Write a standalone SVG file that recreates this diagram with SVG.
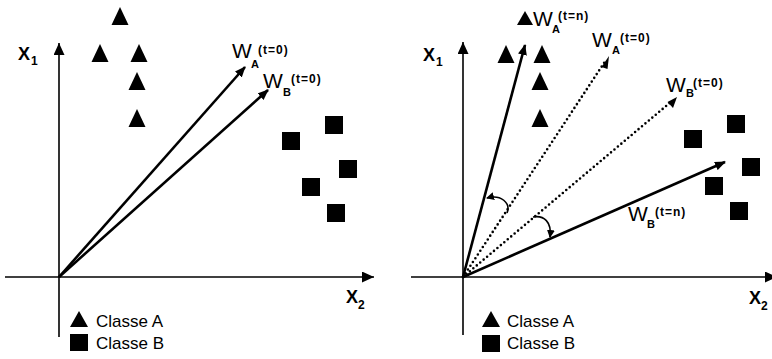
<svg xmlns="http://www.w3.org/2000/svg" width="772" height="359" viewBox="0 0 772 359">
<defs>
<marker id="axh" markerUnits="userSpaceOnUse" markerWidth="12" markerHeight="11" refX="12" refY="5.5" orient="auto"><path d="M0,0 L12,5.5 L0,11 z" fill="#000"/></marker>
<marker id="vh" markerUnits="userSpaceOnUse" markerWidth="11" markerHeight="9" refX="10" refY="4.5" orient="auto"><path d="M0,0 L11,4.5 L0,9 z" fill="#000"/></marker>
<marker id="ah" markerUnits="userSpaceOnUse" markerWidth="8" markerHeight="8" refX="7" refY="4" orient="auto"><path d="M0,0 L8,4 L0,8 z" fill="#000"/></marker>
<path id="tri" d="M0,0 L8.5,18 L-8.5,18 z"/>
<rect id="sq" width="18" height="18"/>
</defs>
<style>
.ax{stroke:#000;stroke-width:1.6;fill:none}
.vec{stroke:#000;stroke-width:2.6;fill:none}
.dot{stroke:#000;stroke-width:2.6;fill:none;stroke-dasharray:0 4.5;stroke-linecap:round}
.arc{stroke:#000;stroke-width:1.6;fill:none}
.pt{fill:#000}
.W{font-family:"Liberation Sans",Arial,sans-serif;font-size:21px;fill:#000}
.sub{font-family:"Liberation Sans",Arial,sans-serif;font-size:11px;font-weight:bold;fill:#000}
.sup{font-family:"Liberation Sans",Arial,sans-serif;font-size:12px;font-weight:bold;letter-spacing:1px;fill:#000}
.X{font-family:"Liberation Sans",Arial,sans-serif;font-size:18px;font-weight:bold;fill:#000}
.Xs{font-family:"Liberation Sans",Arial,sans-serif;font-size:12px;font-weight:bold;fill:#000}
.leg{font-family:"Liberation Sans",Arial,sans-serif;font-size:17px;fill:#000}
</style>
<rect width="772" height="359" fill="#fff"/>

<g id="left-panel">
<g id="left-axes">
<line class="ax" x1="59" y1="337" x2="59" y2="43" marker-end="url(#axh)"/>
<line class="ax" x1="5" y1="277" x2="374" y2="277" marker-end="url(#axh)"/>
<text class="X" x="18" y="60">X</text><text class="Xs" x="31" y="65">1</text>
<text class="X" x="346" y="303">X</text><text class="Xs" x="358" y="309">2</text>
</g>
<g id="left-points" class="pt">
<use href="#tri" x="120" y="7"/>
<use href="#tri" x="100" y="44"/>
<use href="#tri" x="139" y="44"/>
<use href="#tri" x="137" y="72"/>
<use href="#tri" x="137" y="109"/>
<use href="#sq" x="282" y="132"/>
<use href="#sq" x="325" y="116"/>
<use href="#sq" x="339" y="160"/>
<use href="#sq" x="302" y="178"/>
<use href="#sq" x="327" y="204"/>
</g>
<g id="left-connectors">
<line class="vec" x1="59" y1="277" x2="245" y2="67" marker-end="url(#vh)"/>
<line class="vec" x1="59" y1="277" x2="268" y2="90" marker-end="url(#vh)"/>
</g>
<g id="left-WA0">
<text class="W" x="232" y="58">W</text><text class="sub" x="251" y="68">A</text><text class="sup" x="258" y="54">(t=0)</text>
</g>
<g id="left-WB0">
<text class="W" x="263" y="88">W</text><text class="sub" x="283" y="96">B</text><text class="sup" x="291" y="83">(t=0)</text>
</g>
<g id="left-legend">
<path class="pt" d="M79,311 L88,327 L70,327 z"/>
<rect class="pt" x="70" y="334" width="18" height="17"/>
<text class="leg" x="96" y="327">Classe A</text>
<text class="leg" x="96" y="349">Classe B</text>
</g>
</g>

<g id="right-panel">
<g id="right-axes">
<line class="ax" x1="463" y1="335" x2="463" y2="42" marker-end="url(#axh)"/>
<line class="ax" x1="411" y1="277" x2="777" y2="277" marker-end="url(#axh)"/>
<text class="X" x="423" y="61">X</text><text class="Xs" x="436" y="66">1</text>
<text class="X" x="749" y="304">X</text><text class="Xs" x="761" y="310">2</text>
</g>
<g id="right-points" class="pt">
<path d="M525,11 L533,25 L517,25 z"/>
<use href="#tri" x="506" y="45"/>
<use href="#tri" x="542" y="45"/>
<use href="#tri" x="540" y="72"/>
<use href="#tri" x="540" y="109"/>
<use href="#sq" x="684" y="130"/>
<use href="#sq" x="727" y="115"/>
<use href="#sq" x="742" y="158"/>
<use href="#sq" x="705" y="177"/>
<use href="#sq" x="730" y="202"/>
</g>
<g id="right-connectors">
<line class="dot" x1="463" y1="277" x2="606" y2="60"/>
<path d="M601.5,67 L609,56 L607.5,69 z" fill="#000"/>
<line class="dot" x1="463" y1="277" x2="672" y2="101"/>
<path d="M667.5,102 L677,97 L673,108 z" fill="#000"/>
<line class="vec" x1="463" y1="277" x2="525" y2="45" marker-end="url(#vh)"/>
<line class="vec" x1="463" y1="277" x2="725" y2="162" marker-end="url(#vh)"/>
<path class="arc" d="M507,213 C511,203 501,194 487,198" marker-end="url(#ah)"/>
<path class="arc" d="M533,217 C544,215 552,222 550,237" marker-end="url(#ah)"/>
</g>
<g id="right-WAn">
<text class="W" x="533" y="26">W</text><text class="sub" x="552" y="33">A</text><text class="sup" x="558" y="20">(t=n)</text>
</g>
<g id="right-WA0">
<text class="W" x="592" y="47">W</text><text class="sub" x="612" y="54">A</text><text class="sup" x="620" y="42">(t=0)</text>
</g>
<g id="right-WB0">
<text class="W" x="666" y="92">W</text><text class="sub" x="686" y="97">B</text><text class="sup" x="693" y="87">(t=0)</text>
</g>
<g id="right-WBn">
<text class="W" x="628" y="221">W</text><text class="sub" x="647" y="228">B</text><text class="sup" x="655" y="216">(t=n)</text>
</g>
<g id="right-legend">
<path class="pt" d="M491,311 L500,327 L482,327 z"/>
<rect class="pt" x="482" y="335" width="18" height="17"/>
<text class="leg" x="507" y="327">Classe A</text>
<text class="leg" x="507" y="349">Classe B</text>
</g>
</g>
</svg>
